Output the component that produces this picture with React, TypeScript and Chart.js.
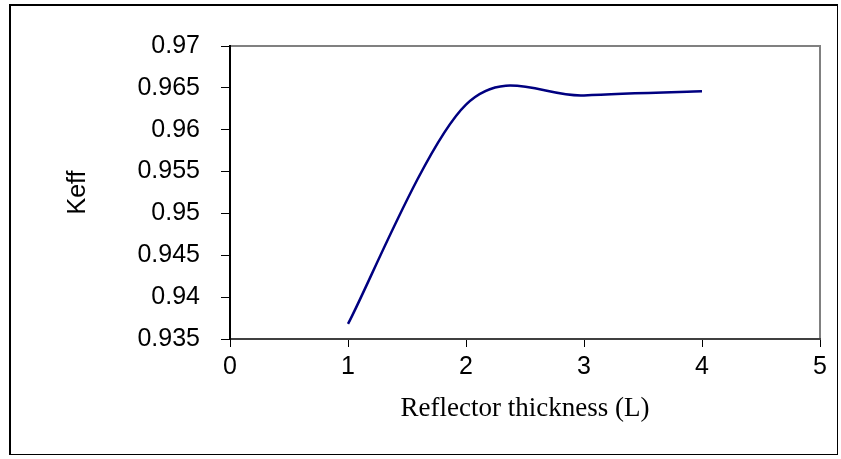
import React, { useEffect, useRef } from "react";
import { Chart, registerables } from "chart.js";

Chart.register(...registerables);

const thickness = [1, 2, 3, 4];
const keff = [0.9368, 0.963, 0.9641, 0.9646];
const xTicks = [0, 1, 2, 3, 4, 5];
const yMin = 0.935;
const yMax = 0.97;
const yStep = 0.005;

const plotBorder = {
  id: "plotBorder",
  beforeDraw(chart: any) {
    const { ctx, chartArea } = chart;
    ctx.save();
    ctx.strokeStyle = "#808080";
    ctx.lineWidth = 2;
    ctx.strokeRect(chartArea.left, chartArea.top, chartArea.right - chartArea.left, chartArea.bottom - chartArea.top);
    ctx.restore();
  },
};

// Spreadsheet-style smoothing: Bezier control points at 1/6 of the neighbour chord
const smoothLine = {
  id: "smoothLine",
  beforeDatasetDraw(chart: any, args: any) {
    const meta = chart.getDatasetMeta(args.index);
    const line = meta.dataset;
    const pts = meta.data;
    const n = pts.length;
    for (let i = 0; i < n; i++) {
      const p = pts[i];
      const prev = pts[Math.max(0, i - 1)];
      const next = pts[Math.min(n - 1, i + 1)];
      const dx = (next.x - prev.x) / 6;
      const dy = (next.y - prev.y) / 6;
      p.cp1x = p.x - dx;
      p.cp1y = p.y - dy;
      p.cp2x = p.x + dx;
      p.cp2y = p.y + dy;
    }
    if (line) line._pointsUpdated = true;
  },
};

export default function App() {
  const ref = useRef<HTMLCanvasElement>(null);
  useEffect(() => {
    const chart = new Chart(ref.current!, {
      type: "line",
      data: {
        datasets: [
          {
            data: thickness.map((x, i) => ({ x, y: keff[i] })),
            borderColor: "#000080",
            borderWidth: 2.5,
            pointRadius: 0,
            tension: 0.4,
            fill: false,
          },
        ],
      },
      options: {
        animation: false,
        responsive: false,
        devicePixelRatio: 1,
        layout: { padding: { left: 9, top: 46, right: 21, bottom: 0 } },
        plugins: { legend: { display: false }, tooltip: { enabled: false } },
        scales: {
          x: {
            type: "linear",
            min: xTicks[0],
            max: xTicks[xTicks.length - 1],
            afterBuildTicks: (s: any) => {
              s.ticks = xTicks.map((v) => ({ value: v }));
            },
            afterFit: (s: any) => {
              s.height = 120;
            },
            grid: { drawOnChartArea: false, drawTicks: true, tickLength: 8, color: "#000", lineWidth: 1 },
            border: { display: true, color: "#404040", width: 2 },
            ticks: {
              color: "#000",
              font: { family: "Liberation Sans, Arial", size: 25 },
              padding: 5,
              maxRotation: 0,
            },
            title: {
              display: true,
              text: "Reflector thickness (L)",
              color: "#000",
              font: { family: "Liberation Serif, Times New Roman", size: 27 },
              padding: { top: 0, bottom: 34 },
            },
          },
          y: {
            min: yMin,
            max: yMax,
            afterFit: (s: any) => {
              s.width = 221;
            },
            grid: { drawOnChartArea: false, drawTicks: true, tickLength: 9, color: "#000", lineWidth: 1 },
            border: { display: true, color: "#000", width: 2 },
            ticks: {
              stepSize: yStep,
              color: "#000",
              font: { family: "Liberation Sans, Arial", size: 25 },
              padding: 21,
              callback: (v: any) => parseFloat(Number(v).toFixed(3)).toString(),
            },
            title: {
              display: true,
              text: "Keff",
              color: "#000",
              font: { family: "Liberation Sans, Arial", size: 25 },
              padding: { top: 54, bottom: 0 },
            },
          },
        },
      },
      plugins: [plotBorder, smoothLine],
    });
    return () => chart.destroy();
  }, []);
  return (
    <div style={{ position: "fixed", left: 0, top: 0, width: 841, height: 459, background: "#fff" }}>
      <canvas ref={ref} width={841} height={459} style={{ display: "block" }} />
      <div
        style={{
          position: "absolute",
          left: 9,
          top: 4,
          width: 829,
          height: 451,
          borderLeft: "2px solid #000",
          borderTop: "2px solid #000",
          borderRight: "1px solid #000",
          borderBottom: "1px solid #000",
          boxSizing: "border-box",
          pointerEvents: "none",
        }}
      />
    </div>
  );
}
